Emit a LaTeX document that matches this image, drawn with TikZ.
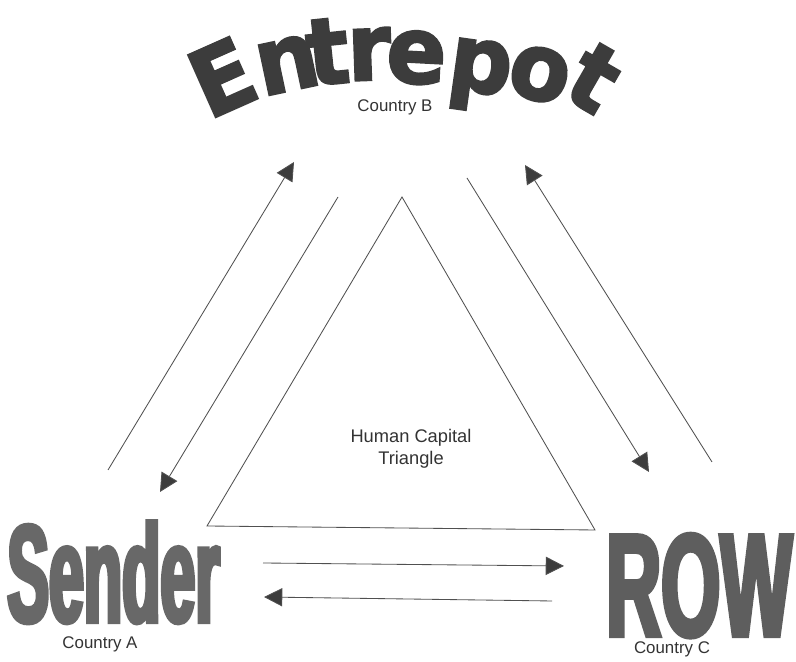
\documentclass[tikz,border=0pt]{standalone}
\usepackage{fontspec}
\setmainfont{Liberation Sans}
\newfontfamily\archfont[FakeStretch=0.95,FakeBold=2.5]{DejaVu Sans}
\newfontfamily\senderfont[FakeStretch=0.45,FakeBold=3]{Liberation Sans}
\newfontfamily\rowfont[FakeStretch=0.52,FakeBold=3]{Liberation Sans}
\usetikzlibrary{arrows.meta}
\definecolor{archgrey}{HTML}{3C3C3C}
\definecolor{biggrey}{HTML}{686868}
\definecolor{linegrey}{HTML}{505050}
\tikzset{
	edge/.style={draw=linegrey,line width=0.6pt},
	flow/.style={edge,-{Triangle[length=13pt,width=13pt,fill=archgrey]}},
	arch/.style={anchor=base,inner sep=0pt,text=archgrey,font=\archfont\bfseries\fontsize{66}{70}\selectfont},
	country/.style={text=black!80,font=\fontsize{12}{14}\selectfont}
}

\begin{document}
\begin{tikzpicture}[x=0.025cm,y=0.025cm]
					\useasboundingbox (0,0) rectangle (796,662);
					%TRIANGLE
					\coordinate (apex) at (402,465);
					\coordinate (baseL) at (207,136);
					\coordinate (baseR) at (595,132);
					\draw[edge] (apex) -- (baseL) -- (baseR) -- cycle;
					\node[align=center,text=black!80,font=\fontsize{13}{16}\selectfont] (hct) at (411,213) {Human Capital\\Triangle};
					%ENTREPOT
					\foreach \ch/\px/\py/\rot [count=\i] in {E/236/554/24,n/293/572/12,t/331/578/6,r/370/582/2,e/415/579/-3,p/477/570/-8,o/533/563/-15,t/578/556/-30}
						\node[arch,rotate=\rot] (ent\i) at (\px,\py) {\ch};
					\node[country] (cb) at (395,555) {Country B};
					%SENDER AND ROW
					\node[anchor=base west,inner sep=0pt,text=biggrey,font=\senderfont\bfseries\fontsize{99}{100}\selectfont] (sender) at (7,40) {Sender};
					\node[country] (ca) at (100,18) {Country A};
					\node[anchor=base west,inner sep=0pt,text=biggrey!90!black,font=\rowfont\bfseries\fontsize{104}{106}\selectfont] (row) at (606,26) {ROW};
					\node[country] (cc) at (672,13) {Country C};
					%FLOWS
					\coordinate (a1) at (108,192); \coordinate (b1) at (294,500);
					\coordinate (b2) at (338,465); \coordinate (a2) at (160,170);
					\coordinate (b3) at (467,484); \coordinate (c3) at (649,190);
					\coordinate (c4) at (712,200); \coordinate (b4) at (525,497);
					\coordinate (a5) at (263,99);  \coordinate (c5) at (564,96);
					\coordinate (c6) at (552,61);  \coordinate (a6) at (264,65);
					\draw[flow] (a1) -- (b1);
					\draw[flow] (b2) -- (a2);
					\draw[flow] (b3) -- (c3);
					\draw[flow] (c4) -- (b4);
					\draw[flow] (a5) -- (c5);
					\draw[flow] (c6) -- (a6);
\end{tikzpicture}
\end{document}
